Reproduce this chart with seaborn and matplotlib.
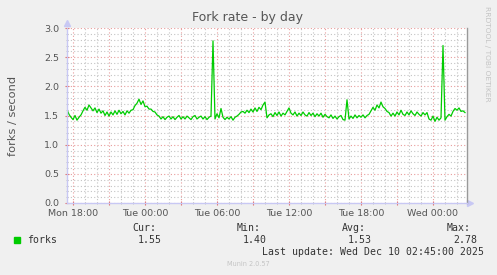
import numpy as np
import pandas as pd
import matplotlib
matplotlib.use("Agg")
import matplotlib.pyplot as plt
import matplotlib.dates as mdates
from matplotlib.patches import Rectangle
import seaborn as sns

# ---- data (10-minute samples, Mon 17:30 -> Wed 02:40) ----
start_time = "2025-12-08 17:30"
forks = [
    1.60, 1.52, 1.47,
    1.43, 1.50, 1.42, 1.47, 1.51,
    1.58, 1.64, 1.59, 1.68,
    1.63, 1.58, 1.63, 1.55, 1.61,
    1.54, 1.58, 1.50, 1.56, 1.49,
    1.56, 1.51, 1.58, 1.52, 1.59,
    1.53, 1.57, 1.51, 1.58, 1.54, 1.59,
    1.60, 1.67, 1.71, 1.78,
    1.69, 1.75, 1.65, 1.66, 1.61,
    1.61, 1.57, 1.56, 1.51, 1.49, 1.44,
    1.48, 1.43, 1.47, 1.49, 1.44, 1.48, 1.43, 1.47, 1.50, 1.44, 1.48, 1.44, 1.49,
    1.46, 1.43, 1.48, 1.50, 1.44, 1.47, 1.49, 1.44, 1.48, 1.43, 1.47, 1.49,
    2.78,
    1.44, 1.53, 1.46, 1.62, 1.47,
    1.43, 1.47, 1.44, 1.48, 1.42, 1.47, 1.49,
    1.52, 1.56, 1.57, 1.54, 1.59, 1.55, 1.61, 1.56, 1.63, 1.57, 1.64, 1.60,
    1.68, 1.73,
    1.46, 1.51, 1.53, 1.48, 1.55, 1.50, 1.56, 1.49, 1.54, 1.51, 1.57,
    1.63,
    1.54, 1.51, 1.56, 1.49, 1.54, 1.50, 1.56, 1.51, 1.49, 1.55, 1.50, 1.54, 1.48,
    1.53, 1.49, 1.54, 1.47, 1.52, 1.48, 1.46, 1.51, 1.45, 1.49, 1.44, 1.48, 1.50, 1.43,
    1.42,
    1.77,
    1.44, 1.49, 1.45, 1.51, 1.46, 1.50, 1.47, 1.51, 1.46, 1.50, 1.52,
    1.58, 1.64, 1.59, 1.68, 1.63, 1.73, 1.65, 1.62, 1.57, 1.55, 1.49,
    1.54, 1.49, 1.56, 1.51, 1.59, 1.52, 1.50, 1.56, 1.51, 1.58, 1.53, 1.50, 1.56,
    1.52, 1.49, 1.55, 1.51, 1.55,
    1.44, 1.42, 1.49, 1.40, 1.47, 1.42, 1.46,
    2.70,
    1.42, 1.48, 1.52, 1.49, 1.57, 1.62, 1.59, 1.63, 1.57, 1.58, 1.55,
]
series_name = "forks"
stat_labels = ["Cur:", "Min:", "Avg:", "Max:"]
stat_values = ["1.55", "1.40", "1.53", "2.78"]
title = "Fork rate - by day"
ylabel = "forks / second"
last_update = "Last update: Wed Dec 10 02:45:00 2025"

times = pd.date_range(start_time, periods=len(forks), freq="10min")
df = pd.DataFrame({"time": times, "value": forks})

# ---- figure ----
W, H = 497, 275
fig = plt.figure(figsize=(W / 100, H / 100), dpi=100, facecolor="#f0f0f0")
ax = fig.add_axes([67 / W, 72 / H, 400 / W, 175 / H])
ax.set_facecolor("white")

major_col = "#e89c9c"
minor_col = "#c4c4c4"
axis_col = "#c8c8f4"

ax.set_ylim(0, 3.0)
x0 = pd.Timestamp("2025-12-08 17:30")
x1 = pd.Timestamp("2025-12-10 02:50")
ax.set_xlim(x0, x1)

ax.yaxis.set_major_locator(plt.MultipleLocator(0.5))
ax.yaxis.set_minor_locator(plt.MultipleLocator(0.1))
ax.yaxis.set_major_formatter(plt.FormatStrFormatter("%.1f"))
ax.xaxis.set_major_locator(mdates.HourLocator(byhour=range(0, 24, 3)))
ax.xaxis.set_minor_locator(mdates.HourLocator())


def fmt(x, pos=None):
    d = mdates.num2date(x)
    if d.hour % 6 == 0:
        return d.strftime("%a %H:%M")
    return ""


ax.xaxis.set_major_formatter(plt.FuncFormatter(fmt))

ax.grid(which="minor", color=minor_col, linestyle=(0, (1, 2)), linewidth=0.8)
ax.grid(which="major", color=major_col, linestyle=(0, (1, 2)), linewidth=0.8)
ax.set_axisbelow(True)

sns.lineplot(data=df, x="time", y="value", ax=ax, color="#00cc00",
             linewidth=0.9, legend=False)
ax.set_xlabel("")
ax.set_ylabel(ylabel, fontsize=8.2, color="#555555", labelpad=19)

ax.tick_params(axis="both", which="major", labelsize=6.8, labelcolor="#555555",
               color="#e07070", direction="inout", length=3, width=0.8)
ax.tick_params(axis="both", which="minor", color="#bbbbbb",
               direction="inout", length=2, width=0.6)
ax.tick_params(axis="x", which="major", pad=3)
ax.tick_params(axis="y", which="major", pad=4)

ax.spines["top"].set_visible(False)
ax.spines["left"].set_color(axis_col)
ax.spines["bottom"].set_color(axis_col)
ax.spines["right"].set_color("#999999")
for s in ["left", "bottom", "right"]:
    ax.spines[s].set_linewidth(1.0)

# axis arrows
ax.plot([0], [1.03], marker="^", color=axis_col, markersize=4,
        transform=ax.transAxes, clip_on=False)
ax.plot([1.008], [0], marker=">", color=axis_col, markersize=4,
        transform=ax.transAxes, clip_on=False)

fig.text(248 / W, 1 - 18 / H, title, ha="center", va="center",
         fontsize=9, color="#555555")
fig.text(487 / W, 1 - 54 / H, "RRDTOOL / TOBI OETIKER", rotation=270,
         ha="center", va="center", fontsize=5.4, color="#c4c4c4")

mono = "DejaVu Sans Mono"
fs = 7.1
fig.patches.append(Rectangle((14 / W, 1 - 243 / H), 6 / W, 6 / H,
                             transform=fig.transFigure, color="#00cc00"))
fig.text(27 / W, 1 - 240 / H, series_name, family=mono, fontsize=fs,
         color="#333333", va="center", ha="left")
label_x = [132, 237, 342, 447]
value_x = [138, 243, 348, 453]
for lx, vx, lab, val in zip(label_x, value_x, stat_labels, stat_values):
    fig.text(lx / W, 1 - 228 / H, lab, family=mono, fontsize=fs,
             color="#333333", va="center", ha="left")
    fig.text(vx / W, 1 - 240 / H, val, family=mono, fontsize=fs,
             color="#333333", va="center", ha="left")
fig.text(262 / W, 1 - 252 / H, last_update, family=mono, fontsize=fs,
         color="#333333", va="center", ha="left")
fig.text(248 / W, 1 - 263.5 / H, "Munin 2.0.57", ha="center", va="center",
         fontsize=4.7, color="#c4c4c4")

fig.savefig("out.png", dpi=100, facecolor=fig.get_facecolor())
